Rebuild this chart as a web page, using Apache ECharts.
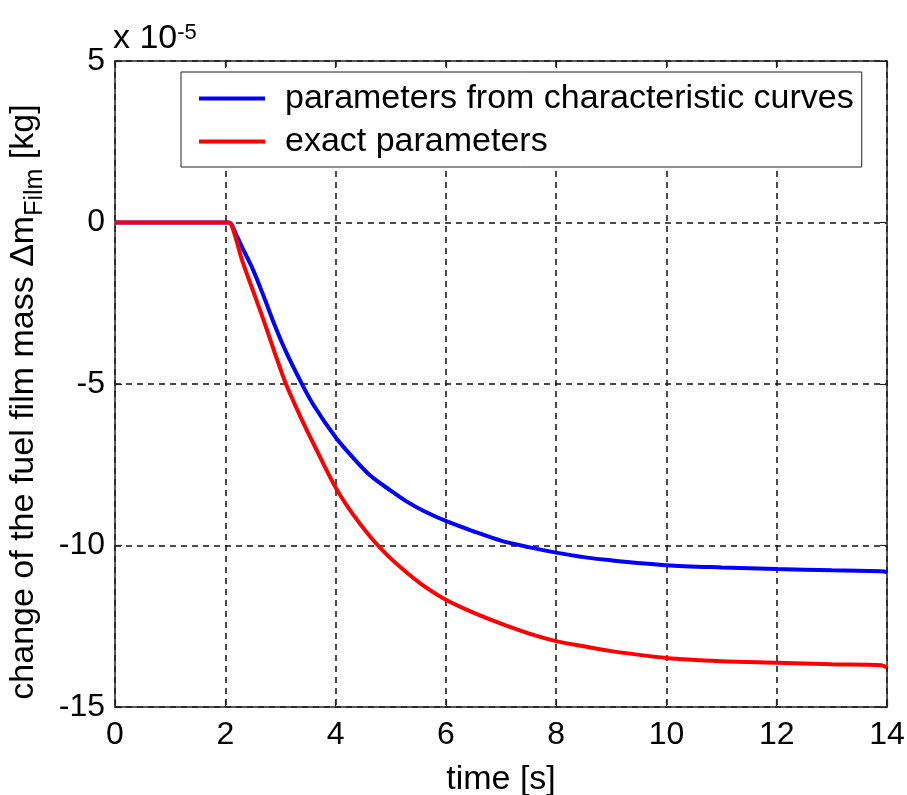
<!DOCTYPE html>
<html>
<head>
<meta charset="utf-8">
<title>fuel film mass</title>
<script src="https://cdn.jsdelivr.net/npm/echarts@6/dist/echarts.min.js"></script>
<style>
  html, body { margin: 0; padding: 0; background: #fff; }
  #chart { width: 907px; height: 795px; }
</style>
</head>
<body>
<div id="chart"></div>
<script>
// time [s]
var timeS = [0, 2.05, 2.1, 2.2, 2.3, 2.5, 2.7, 2.9, 3.1, 3.36, 3.6, 4.0, 4.3, 4.64, 5.0, 5.3, 5.6, 6.0, 6.5, 7.0, 7.5, 8.0, 8.5, 9.0, 10, 11, 12, 13, 13.9, 14];
// change of fuel film mass, in units of 1e-5 kg
var fromCurves = [0, 0, -0.03, -0.38, -0.75, -1.45, -2.3, -3.2, -4.0, -4.9, -5.65, -6.65, -7.25, -7.85, -8.3, -8.65, -8.93, -9.24, -9.56, -9.85, -10.05, -10.22, -10.36, -10.46, -10.61, -10.68, -10.73, -10.77, -10.8, -10.82];
var exactParams = [0, 0, -0.03, -0.55, -1.15, -2.1, -3.05, -4.05, -5.0, -6.0, -6.85, -8.2, -9.0, -9.75, -10.4, -10.85, -11.25, -11.68, -12.08, -12.42, -12.72, -12.96, -13.12, -13.27, -13.48, -13.58, -13.63, -13.68, -13.71, -13.78];
var xTicks = [0, 2, 4, 6, 8, 10, 12, 14];
var yTicks = [-15, -10, -5, 0, 5];
var seriesNames = ['parameters from characteristic curves', 'exact parameters'];

function pairs(xs, ys) {
    var out = [];
    for (var i = 0; i < xs.length; i++) {
        out.push([xs[i], ys[i]]);
    }
    return out;
}

var font = 'Arial, "Liberation Sans", Helvetica, sans-serif';
var chart = echarts.init(document.getElementById('chart'));

var boxLine = { show: true, onZero: false, lineStyle: { color: '#222', width: 1.5 } };
var tick = { show: true, inside: true, length: 7, lineStyle: { color: '#222', width: 1.2 } };
var grid = { show: true, lineStyle: { color: '#111', width: 1.5, type: [6, 5] } };

var option = {
    animation: false,
    backgroundColor: '#fff',
    textStyle: { fontFamily: font },
    grid: { left: 115, top: 61, right: 20, bottom: 88, containLabel: false, outerBoundsMode: 'none' },
    legend: {
        orient: 'vertical',
        left: 181,
        top: 72,
        padding: [9, 8, 8, 18],
        itemGap: 8,
        itemWidth: 66,
        itemHeight: 4,
        icon: 'rect',
        backgroundColor: '#fff',
        borderColor: '#222',
        borderWidth: 1,
        borderRadius: 0,
        textStyle: { fontSize: 34, lineHeight: 35, color: '#000', fontFamily: font, padding: [0, 0, 0, 15] },
        data: seriesNames
    },
    xAxis: [{
        type: 'value',
        min: 0, max: 14, interval: 2,
        axisLine: boxLine,
        axisTick: tick,
        splitLine: grid,
        axisLabel: {
            color: '#000', fontSize: 32, margin: 12,
            formatter: function (v) { return xTicks.indexOf(v) >= 0 ? String(v) : ''; }
        },
        name: 'time [s]',
        nameLocation: 'middle',
        nameGap: 56,
        nameTextStyle: { color: '#000', fontSize: 34 }
    }, {
        type: 'value', position: 'top',
        min: 0, max: 14, interval: 2,
        axisLine: boxLine, axisTick: tick,
        axisLabel: { show: false }, splitLine: { show: false }
    }],
    yAxis: [{
        type: 'value',
        min: -15, max: 5, interval: 5,
        axisLine: boxLine,
        axisTick: tick,
        splitLine: grid,
        axisLabel: {
            color: '#000', fontSize: 32, margin: 10,
            formatter: function (v) { return yTicks.indexOf(v) >= 0 ? String(v) : ''; }
        },
        name: 'change of the fuel film mass \u0394m{sub|Film} [kg]',
        nameLocation: 'middle',
        nameRotate: 90,
        nameGap: 60,
        nameTextStyle: {
            color: '#000', fontSize: 34, lineHeight: 48,
            padding: [0, 36, 0, 0],
            rich: {
                sub: { fontSize: 25, color: '#000', lineHeight: 24, verticalAlign: 'bottom' }
            }
        }
    }, {
        type: 'value', position: 'right',
        min: -15, max: 5, interval: 5,
        axisLine: boxLine, axisTick: tick,
        axisLabel: { show: false }, splitLine: { show: false }
    }],
    graphic: [{
        type: 'text',
        left: 113,
        top: 22,
        style: {
            text: 'x 10{sup|-5}',
            fill: '#000',
            font: '34px ' + font,
            rich: {
                sup: { fontSize: 22, fontFamily: font, verticalAlign: 'top', lineHeight: 22 }
            }
        }
    }],
    series: [{
        name: seriesNames[0],
        type: 'line',
        symbol: 'none',
        smooth: 0.3,
        data: pairs(timeS, fromCurves),
        lineStyle: { color: '#0000ff', width: 4 },
        itemStyle: { color: '#0000ff' },
        z: 3
    }, {
        name: seriesNames[1],
        type: 'line',
        symbol: 'none',
        smooth: 0.3,
        data: pairs(timeS, exactParams),
        lineStyle: { color: '#ff0000', width: 4 },
        itemStyle: { color: '#ff0000' },
        z: 4
    }]
};

chart.setOption(option);
</script>
</body>
</html>
